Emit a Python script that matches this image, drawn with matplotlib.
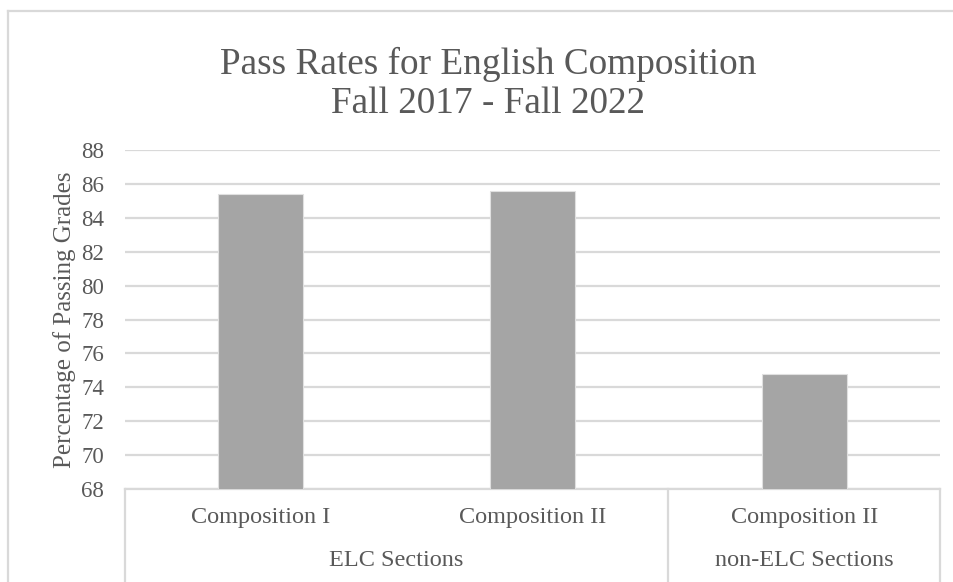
import matplotlib
matplotlib.use("Agg")
from matplotlib import pyplot as plt
from matplotlib.lines import Line2D

# Data
categories = ['Composition I', 'Composition II', 'Composition II']
groups = ['ELC Sections', 'non-ELC Sections']
group_spans = [(0, 1), (2, 2)]   # first and last category index per group
pass_rates = [85.4, 85.6, 74.8]
yticks = list(range(68, 89, 2))

text_col = '#595959'
grid_col = '#D9D9D9'
bar_col = '#A5A5A5'

plt.rcParams['font.family'] = ['Liberation Serif', 'DejaVu Serif']

fig = plt.figure(figsize=(9.54, 5.82), dpi=100)
ax = fig.add_axes([125/954, 1 - 489/582, 815/954, 339/582])

x = list(range(len(categories)))
ax.bar(x, pass_rates, width=0.313, color=bar_col, edgecolor='#E0E0E0', linewidth=0.8, zorder=3)

ax.set_xlim(-0.5, len(categories) - 0.5)
ax.set_ylim(68, 88)
ax.set_yticks(yticks)
ax.set_yticklabels([str(t) for t in yticks], fontsize=16.5, color=text_col)
ax.tick_params(axis='y', length=0, pad=15)
ax.set_xticks([])
ax.yaxis.grid(True, color=grid_col, linewidth=1.6, zorder=0)
for s in ['top', 'right', 'left']:
    ax.spines[s].set_visible(False)
ax.spines['bottom'].set_color(grid_col)
ax.spines['bottom'].set_linewidth(1.6)
ax.set_ylabel('Percentage of Passing Grades', fontsize=18, color=text_col, labelpad=4)

# multi-level category axis
trans = ax.get_xaxis_transform()
for i, c in enumerate(categories):
    ax.text(i, -0.085, c, transform=trans, ha='center', va='center', fontsize=17.5, color=text_col)
for g, (a, b) in zip(groups, group_spans):
    ax.text((a + b) / 2, -0.21, g, transform=trans, ha='center', va='center', fontsize=17.5, color=text_col)
seps = [-0.5] + [b + 0.5 for a, b in group_spans]
for s in seps:
    ax.plot([s, s], [0, -0.3], transform=trans, color=grid_col, linewidth=1.6, clip_on=False)

fig.text(488/954, 1 - 84/582, 'Pass Rates for English Composition\nFall 2017 - Fall 2022',
         ha='center', va='center', fontsize=26.8, color=text_col, linespacing=1.15)

# chart frame (partially visible)
fig.add_artist(Line2D([8/954, 1], [1 - 11/582, 1 - 11/582], color=grid_col, linewidth=1.6))
fig.add_artist(Line2D([8/954, 8/954], [0, 1 - 11/582], color=grid_col, linewidth=1.6))

plt.savefig('out.png', dpi=100)
